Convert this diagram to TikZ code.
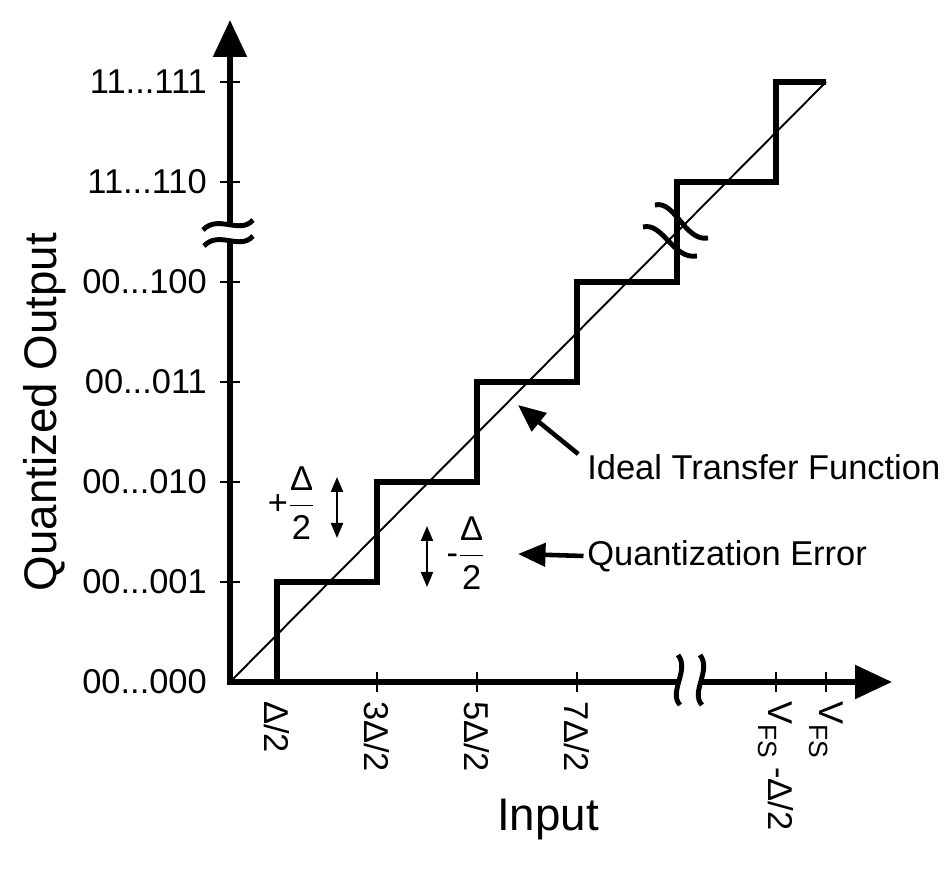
\documentclass[tikz,border=0pt]{standalone}
\usepackage{amsmath}
\usepackage{fontspec}
\setmainfont{Liberation Sans}
\usetikzlibrary{arrows.meta, positioning}
\newcommand{\fssub}{\raisebox{-0.28em}{\fontsize{15}{15}\selectfont FS}}

\begin{document}
\begin{tikzpicture}[
    x=2cm, y=2cm,
    every node/.style={font=\fontsize{19.6}{23}\selectfont},
    bigfont/.style={font=\fontsize{26}{30}\selectfont},
    axisline/.style={line width=3.1pt, line join=miter},
    axisarrow/.style={axisline, -{Triangle[length=7.4mm, width=6.6mm]}},
    tickmark/.style={line width=1.1pt},
    stair/.style={line width=3.1pt, line join=miter},
    ideal/.style={line width=1.1pt},
    brk/.style={line width=2.8pt},
    pm/.style={line width=1.2pt, {Triangle[length=3mm, width=2.4mm]}-{Triangle[length=3mm, width=2.4mm]}},
    callout/.style={line width=2.6pt, -{Triangle[length=5.5mm, width=4.6mm]}},
    ylab/.style={anchor=east},
    xlab/.style={anchor=west, rotate=-90},
    note/.style={anchor=west, inner sep=0pt}
]
    \useasboundingbox (-2.30,-1.87) rectangle (7.21,6.82);

    % Axes with breaks
    \draw[axisline] (0,4.42) -- (0,0) -- (4.49,0);
    \draw[axisarrow] (0,4.56) -- (0,6.62);
    \draw[axisarrow] (4.71,0) -- (6.62,0);
    \draw[brk] (-0.27,4.52) .. controls (-0.12,4.68) and (0.10,4.47) .. (0.23,4.62);
    \draw[brk] (-0.26,4.36) .. controls (-0.11,4.52) and (0.10,4.31) .. (0.23,4.46);
    \draw[brk] (4.48,0.27) .. controls (4.60,0.12) and (4.38,-0.10) .. (4.50,-0.23);
    \draw[brk] (4.70,0.27) .. controls (4.82,0.12) and (4.60,-0.10) .. (4.72,-0.23);

    % Ticks
    \foreach \lev in {1,...,6}
        \draw[tickmark] (-0.1,\lev) -- (0.1,\lev);
    \foreach \xx in {1.47,2.47,3.47,5.46,5.96}
        \draw[tickmark] (\xx,-0.1) -- (\xx,0.1);

    % Output codes
    \node[ylab] (c0) at (-0.17,0) {00...000};
    \node[ylab] (c1) at (-0.17,1) {00...001};
    \node[ylab] (c2) at (-0.17,2) {00...010};
    \node[ylab] (c3) at (-0.17,3) {00...011};
    \node[ylab] (c4) at (-0.17,4) {00...100};
    \node[ylab] (c5) at (-0.17,5) {11...110};
    \node[ylab] (c6) at (-0.17,6) {11...111};

    % Input levels
    \node[xlab] (v1) at (0.47,-0.13) {Δ/2};
    \node[xlab] (v3) at (1.47,-0.13) {3Δ/2};
    \node[xlab] (v5) at (2.47,-0.13) {5Δ/2};
    \node[xlab] (v7) at (3.47,-0.13) {7Δ/2};
    \node[xlab] (vfsm) at (5.46,-0.13) {V\fssub{} -Δ/2};
    \node[xlab] (vfs) at (5.96,-0.13) {V\fssub};

    % Axis titles
    \node[bigfont] (inp) at (3.18,-1.38) {Input};
    \node[bigfont, rotate=90] (outp) at (-1.85,2.70) {Quantized Output};

    % Transfer curves
    \draw[ideal] (0,0) -- (5.96,6);
    \draw[stair] (0.47,0) -- (0.47,1) -- (1.47,1) -- (1.47,2) -- (2.47,2) -- (2.47,3)
        -- (3.47,3) -- (3.47,4) -- (4.47,4) -- (4.47,5) -- (5.46,5) -- (5.46,6) -- (5.96,6);
    \draw[brk] (4.25,4.77) .. controls (4.45,4.82) and (4.55,4.40) .. (4.78,4.44);
    \draw[brk] (4.13,4.55) .. controls (4.33,4.60) and (4.43,4.22) .. (4.67,4.26);

    % Error bounds
    \node (plus) at (0.615,1.79) {+$\dfrac{\text{Δ}}{\text{2}}$};
    \coordinate (pt) at (1.07,2.05);
    \coordinate (pb) at (1.07,1.44);
    \draw[pm] (pt) -- (pb);
    \node (minus) at (2.36,1.29) {-$\dfrac{\text{Δ}}{\text{2}}$};
    \coordinate (mt) at (1.97,1.56);
    \coordinate (mb) at (1.97,0.95);
    \draw[pm] (mt) -- (mb);

    % Callouts
    \node[note] (itf) at (3.57,2.15) {Ideal Transfer Function};
    \coordinate (itfpt) at (2.88,2.77);
    \draw[callout] ([xshift=-5pt]itf.north west) -- (itfpt);
    \node[note] (qerr) at (3.57,1.26) {Quantization Error};
    \coordinate (qerrpt) at (2.88,1.28);
    \draw[callout] ([xshift=-2pt]qerr.west) -- (qerrpt);
\end{tikzpicture}
\end{document}
